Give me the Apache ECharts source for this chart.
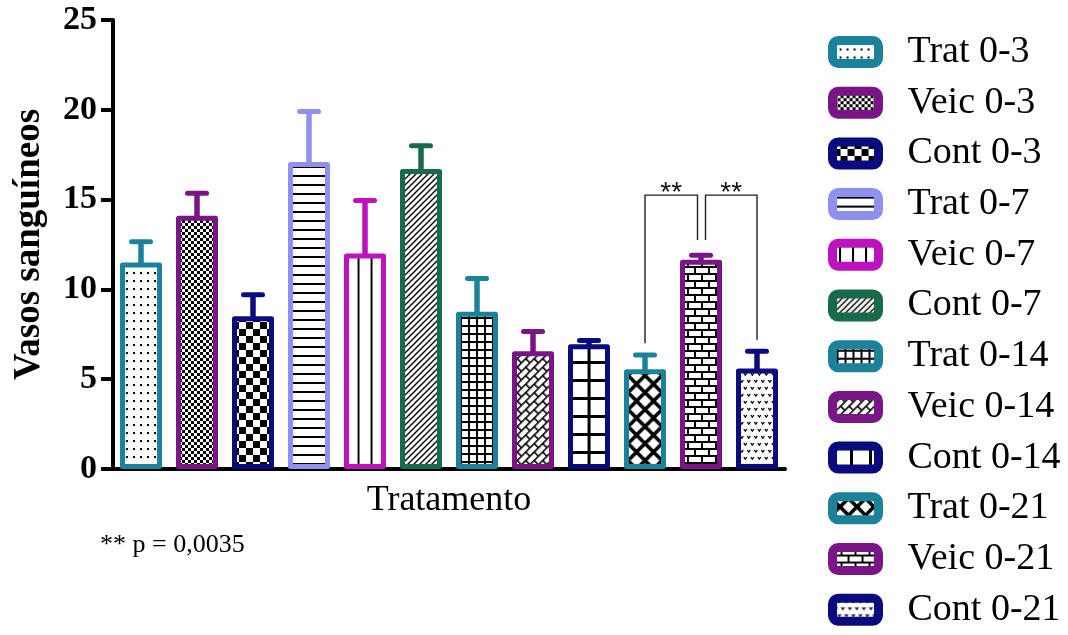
<!DOCTYPE html>
<html>
<head>
<meta charset="utf-8">
<script src="https://cdn.jsdelivr.net/npm/echarts@6/dist/echarts.min.js"></script>
<style>
  html, body { margin: 0; padding: 0; background: #fff; }
  #chart { width: 1068px; height: 635px; }
</style>
</head>
<body>
<div id="chart"></div>
<script>
// Groups (one bar each), mean number of blood vessels and SEM
const categories = ['Trat 0-3', 'Veic 0-3', 'Cont 0-3', 'Trat 0-7', 'Veic 0-7', 'Cont 0-7',
                    'Trat 0-14', 'Veic 0-14', 'Cont 0-14', 'Trat 0-21', 'Veic 0-21', 'Cont 0-21'];
const means = [11.5, 14.1, 8.5, 17.1, 12.0, 16.7, 8.75, 6.55, 6.95, 5.55, 11.65, 5.6];
const sem   = [1.15, 1.25, 1.2, 2.8, 2.95, 1.3, 1.85, 1.1, 0.2, 0.8, 0.25, 0.95];
const yTicks = [0, 5, 10, 15, 20, 25];

// Significance brackets between groups (bar indices and leg ends in axis units)
const sigFrom    = [9, 10];
const sigTo      = [10, 11];
const sigFromLow = [7.0, 12.75];
const sigToLow   = [12.75, 7.2];
const sigTop     = 15.25;
const sigMark    = '**';
const pNote      = '** p = 0,0035';

// Styling
const palette = ['#1c8299', '#7a1585', '#0b0b80', '#9090ee', '#bd12bd', '#176b4a',
                 '#1c8299', '#7a1585', '#0b0b80', '#1c8299', '#7a1585', '#0b0b80'];
const patternNames = ['dots', 'fineChecker', 'checker', 'hLines', 'vLines', 'diagonal',
                      'grid', 'diagBricks', 'bigGrid', 'lattice', 'bricks', 'chevrons'];
const SERIF = '"Liberation Serif", "Times New Roman", serif';

function tile(w, h, draw) {
  const c = document.createElement('canvas');
  c.width = w; c.height = h;
  const ctx = c.getContext('2d');
  ctx.fillStyle = '#fff';
  ctx.fillRect(0, 0, w, h);
  ctx.fillStyle = '#000';
  ctx.strokeStyle = '#000';
  draw(ctx, w, h);
  return c;
}

function diagLines(ctx, size, slope, width) {
  ctx.lineWidth = width;
  ctx.beginPath();
  for (let k = -3; k <= 4; k++) {
    const x0 = k * size;
    ctx.moveTo(x0 - 2 * size, slope * (-2 * size));
    ctx.lineTo(x0 + 3 * size, slope * (3 * size));
  }
  ctx.stroke();
}

const patternDefs = {
  dots:        { ax: 3,   canvas: tile(7, 8, c => c.fillRect(2, 3, 2, 2)) },
  fineChecker: { ax: 0,   canvas: tile(6, 6, c => { c.fillRect(0, 0, 3, 3); c.fillRect(3, 3, 3, 3); }) },
  checker:     { ax: 0,   canvas: tile(14, 14, c => { c.fillRect(0, 0, 7, 7); c.fillRect(7, 7, 7, 7); }) },
  hLines:      { ax: 0,   canvas: tile(4, 9, c => c.fillRect(0, 3, 4, 2)) },
  vLines:      { ax: 7.5, canvas: tile(13, 4, c => c.fillRect(0, 0, 2, 4)) },
  diagonal:    { ax: 0,   canvas: tile(6, 6, c => diagLines(c, 6, -1, 1.4)) },
  grid:        { ax: 1,   canvas: tile(8, 8, c => { c.fillRect(0, 0, 8, 2); c.fillRect(0, 0, 2, 8); }) },
  diagBricks:  { ax: 0,   rotation: -Math.PI / 4,
                 canvas: tile(12, 12, c => {
                   c.fillRect(0, 0, 12, 1.6); c.fillRect(0, 6, 12, 1.6);
                   c.fillRect(0, 0, 1.6, 6); c.fillRect(6, 6, 1.6, 6);
                 }) },
  bigGrid:     { ax: 1.5, canvas: tile(19, 18, c => { c.fillRect(0, 0, 19, 3); c.fillRect(0, 0, 3, 18); }) },
  lattice:     { ax: 8.5, canvas: tile(17, 17, c => { diagLines(c, 17, 1, 3.6); diagLines(c, 17, -1, 3.6); }) },
  bricks:      { ax: 0,   canvas: tile(14, 14, c => {
                   c.fillRect(0, 0, 14, 2); c.fillRect(0, 7, 14, 2);
                   c.fillRect(0, 0, 2, 7); c.fillRect(7, 7, 2, 7);
                 }) },
  chevrons:    { ax: 0,   canvas: tile(7, 14, c => {
                   c.lineWidth = 1.3;
                   c.beginPath();
                   c.moveTo(0.8, 2); c.lineTo(2.3, 4.2); c.lineTo(3.8, 2);
                   c.moveTo(4.3, 9); c.lineTo(5.8, 11.2); c.lineTo(7.3, 9);
                   c.moveTo(-2.7, 9); c.lineTo(-1.2, 11.2); c.lineTo(0.3, 9);
                   c.stroke();
                 }) }
};

function fillFor(i, anchor) {
  const p = patternDefs[patternNames[i]];
  const fill = { image: p.canvas, repeat: 'repeat' };
  if (anchor) { fill.x = anchor[0] - p.ax; fill.y = anchor[1]; }
  if (p.rotation) fill.rotation = p.rotation;
  return fill;
}

function buildOption(anchors) {
  const barSeries = categories.map((name, i) => ({
    name: name,
    type: 'bar',
    barWidth: 42,
    barGap: '-100%',
    z: 3,
    data: categories.map((_, j) => (j === i ? means[i] : '-')),
    itemStyle: {
      color: fillFor(i, anchors ? anchors[i] : null),
      borderColor: palette[i],
      borderWidth: 5,
      borderJoin: 'round'
    },
    emphasis: { disabled: true }
  }));

  const errorSeries = {
    type: 'custom',
    z: 2,
    silent: true,
    data: means.map((m, i) => [i, m, m + sem[i]]),
    encode: { x: 0, y: [1, 2] },
    renderItem: function (params, api) {
      const i = api.value(0);
      const base = api.coord([i, api.value(1)]);
      const top = api.coord([i, api.value(2)]);
      const color = palette[params.dataIndex];
      return {
        type: 'group',
        children: [
          { type: 'line', shape: { x1: base[0], y1: base[1] + 3, x2: top[0], y2: top[1] },
            style: { stroke: color, lineWidth: 5.5 } },
          { type: 'line', shape: { x1: top[0] - 9.5, y1: top[1], x2: top[0] + 9.5, y2: top[1] },
            style: { stroke: color, lineWidth: 5, lineCap: 'round' } }
        ]
      };
    }
  };

  const bracketSeries = {
    type: 'custom',
    z: 4,
    silent: true,
    data: sigFrom.map((f, k) => [f, sigFromLow[k], sigTo[k], sigToLow[k], sigTop]),
    encode: { x: [0, 2], y: [1, 3, 4] },
    renderItem: function (params, api) {
      const k = params.dataIndex;
      const p1 = api.coord([api.value(0), api.value(1)]);
      const p2 = api.coord([api.value(2), api.value(3)]);
      const yTop = api.coord([api.value(0), api.value(4)])[1];
      // legs that land on a bar shared by two brackets are nudged apart
      const x1 = p1[0] + (sigTo.indexOf(sigFrom[k]) >= 0 ? 4.5 : 0);
      const x2 = p2[0] - (sigFrom.indexOf(sigTo[k]) >= 0 ? 3.5 : 0);
      return {
        type: 'group',
        children: [
          { type: 'polyline',
            shape: { points: [[x1, p1[1]], [x1, yTop], [x2, yTop], [x2, p2[1]]] },
            style: { stroke: '#222', lineWidth: 1.4, fill: null } },
          { type: 'text',
            style: { x: (x1 + x2) / 2, y: yTop - 2, text: sigMark, align: 'center', verticalAlign: 'middle',
                     fontFamily: '"Liberation Sans", Arial, sans-serif', fontSize: 28, fill: '#111' } }
        ]
      };
    }
  };

  return {
    animation: false,
    backgroundColor: '#fff',
    grid: { left: 113, right: 283, top: 20, bottom: 166, containLabel: false, outerBoundsMode: 'none' },
    legend: {
      data: categories,
      orient: 'vertical',
      left: 828,
      top: 33,
      padding: 0,
      itemWidth: 46,
      itemHeight: 23,
      itemGap: 12.7,
      icon: 'roundRect',
      selectedMode: false,
      itemStyle: { borderWidth: 9 },
      textStyle: { fontFamily: SERIF, fontSize: 38, color: '#000', lineHeight: 32, padding: [0, 0, 0, 24] }
    },
    xAxis: {
      type: 'category',
      data: categories,
      name: 'Tratamento',
      nameLocation: 'middle',
      nameGap: 14,
      nameTextStyle: { fontFamily: SERIF, fontSize: 36, color: '#000' },
      axisLine: { show: true, lineStyle: { color: '#000', width: 4 } },
      axisTick: { show: false },
      axisLabel: { show: false },
      splitLine: { show: false }
    },
    yAxis: {
      type: 'value',
      min: yTicks[0],
      max: yTicks[yTicks.length - 1],
      interval: yTicks[1] - yTicks[0],
      name: 'Vasos sanguíneos',
      nameLocation: 'middle',
      nameRotate: 90,
      nameGap: 65,
      nameTextStyle: { fontFamily: SERIF, fontSize: 37, fontWeight: 'bold', color: '#000' },
      axisLine: { show: true, lineStyle: { color: '#000', width: 4 } },
      axisTick: { show: true, inside: false, length: 12, lineStyle: { color: '#000', width: 4 } },
      axisLabel: { margin: 16, fontFamily: SERIF, fontSize: 34, fontWeight: 'bold', color: '#000' },
      splitLine: { show: false }
    },
    graphic: [
      { type: 'text', left: 100, top: 532,
        style: { text: pNote, fontFamily: SERIF, fontSize: 26, fill: '#000' } }
    ],
    series: barSeries.concat([errorSeries, bracketSeries])
  };
}

const chart = echarts.init(document.getElementById('chart'), null, { renderer: 'canvas' });
chart.setOption(buildOption(null));
// anchor each fill pattern to its bar (centre x, baseline y)
const anchors = categories.map((_, i) => chart.convertToPixel({ gridIndex: 0 }, [i, 0]));
chart.setOption(buildOption(anchors), true);
</script>
</body>
</html>
